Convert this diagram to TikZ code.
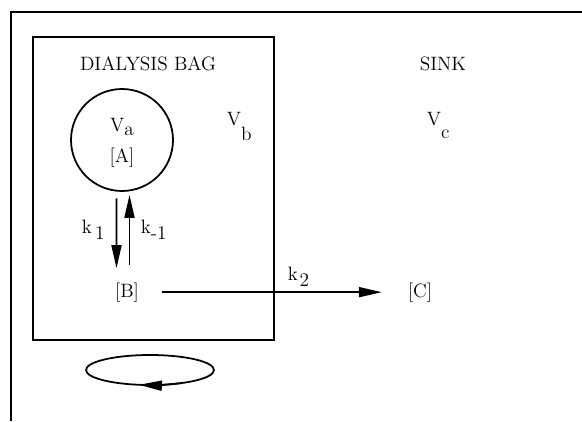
\documentclass[tikz,border=0pt]{standalone}
\usepackage{amsmath}
\usepackage{tikz}
\usetikzlibrary{arrows.meta}
\tikzset{flow/.style={line width=1pt, -{Triangle[length=0.46cm,width=0.2cm]}}}
\newcommand{\drop}[2]{\raisebox{-#1}{#2}}

\begin{document}
\begin{tikzpicture}[font=\fontsize{11}{13}\selectfont, line width=1pt]
    \useasboundingbox (0,0) rectangle (11.64,8.42);
    % outer frame and bag
    \draw (0.22,0) -- (0.22,8.18) -- (11.64,8.18);
    \draw (0.66,1.62) rectangle (5.48,7.68);

    \node[anchor=base] (bag) at (2.96,7.02) {DIALYSIS BAG};
    \node[anchor=base] (sink) at (8.86,7.02) {SINK};

    \node[draw, circle, minimum size=2.04cm] (bubble) at (2.44,5.62) {};
    \node[anchor=base] (Va) at (2.44,5.8) {V\drop{0.25em}{a}};
    \node[anchor=base] (A) at (2.44,5.18) {[A]};
    \node[anchor=base west, inner sep=0] (Vb) at (4.52,5.92) {V\drop{0.8em}{b}};
    \node[anchor=base west, inner sep=0] (Vc) at (8.52,5.92) {V\drop{0.7em}{c}};

    \node[anchor=base] (B) at (2.54,2.48) {[B]};
    \node[anchor=base] (C) at (8.40,2.48) {[C]};

    \node[anchor=base west, inner sep=0] (k1) at (1.62,3.76) {k\,\drop{0.35em}{1}};
    \node[anchor=base west, inner sep=0] (km1) at (2.80,3.76) {k\drop{0.35em}{-1}};
    \node[anchor=base west, inner sep=0] (k2) at (5.74,2.82) {k\kern1pt\drop{0.35em}{2}};

    \draw[flow, shorten <=3.7pt, shorten >=4.3pt] ([xshift=-0.11cm]bubble.south) -- ([xshift=-0.21cm]B.north);
    \draw[flow, shorten <=6.2pt, shorten >=1.7pt] ([xshift=0.05cm]B.north) -- ([xshift=0.15cm]bubble.south);
    \draw[flow, shorten <=9pt, shorten >=11pt] (B) -- (C);

    % stirrer
    \draw (3,1.02) ellipse [x radius=1.28, y radius=0.3];
    \draw[flow] (3,1.02) ++(-60:1.28 and 0.3) arc [start angle=-60, end angle=-100, x radius=1.28, y radius=0.3];
\end{tikzpicture}
\end{document}
